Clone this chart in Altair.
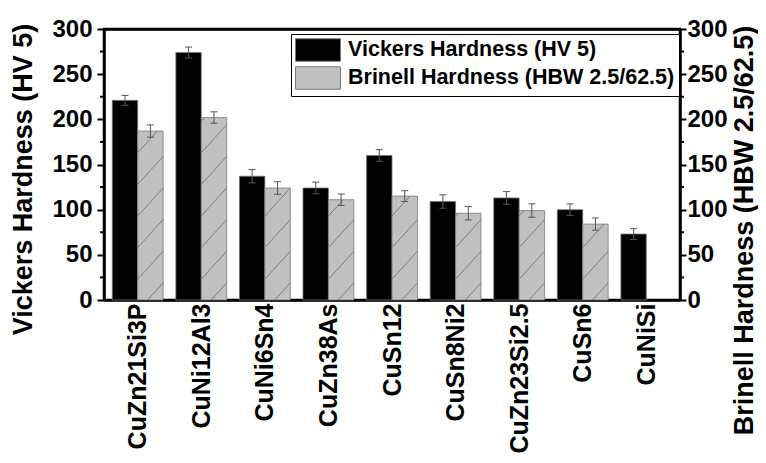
import altair as alt
import pandas as pd
import json

# ---------------- data ----------------
categories = ["CuZn21Si3P", "CuNi12Al3", "CuNi6Sn4", "CuZn38As", "CuSn12",
              "CuSn8Ni2", "CuZn23Si2.5", "CuSn6", "CuNiSi"]
vickers = [221, 274, 137, 124, 160, 109, 113, 100, 73]
vickers_err = [5.5, 6.0, 7.4, 6.5, 6.5, 7.4, 7.0, 6.4, 6.0]
brinell = [187, 202, 124, 111, 115, 96, 99, 84, None]
brinell_err = [6.8, 6.3, 7.0, 6.3, 6.0, 7.4, 7.4, 6.8, None]
y_ticks = [0, 50, 100, 150, 200, 250, 300]
y_minor = [25, 75, 125, 175, 225, 275]

S1 = "Vickers Hardness (HV 5)"
S2 = "Brinell Hardness (HBW 2.5/62.5)"

FONT = "Liberation Sans"
W, H = 576, 271
BW = 0.40          # bar width in category units
CAP = 0.055        # half cap width

rows = []
for i, (v, ve, b, be) in enumerate(zip(vickers, vickers_err, brinell, brinell_err)):
    rows.append(dict(idx=i, series=S1, value=v, err=ve, x0=i - BW, x1=i, xc=i - BW / 2))
    if b is not None:
        rows.append(dict(idx=i, series=S2, value=b, err=be, x0=i, x1=i + BW, xc=i + BW / 2))
df = pd.DataFrame(rows)
df["base"] = 0
df["lo"] = df["value"] - df["err"]
df["hi"] = df["value"] + df["err"]
df["c0"] = df["xc"] - CAP
df["c1"] = df["xc"] + CAP

# hatch segments (derived from the Brinell bars, in data units)
RISE, STEP, PHASE = 31.0, 35.0, -12.0
hatch = []
for _, r in df[df["series"] == S2].iterrows():
    top = r["value"]
    a = PHASE
    while a < top:
        ya, yb = a, a + RISE
        xa, xb = r["x0"], r["x1"]
        if yb > 0:
            if ya < 0:
                xa = r["x0"] + (-a) / RISE * BW
                ya = 0.0
            if yb > top:
                xb = r["x0"] + (top - a) / RISE * BW
                yb = top
            hatch.append(dict(hx0=xa, hx1=xb, hy0=ya, hy1=yb))
        a += STEP
hdf = pd.DataFrame(hatch)
minor_df = pd.DataFrame({"m": y_minor})

# ---------------- scales / axes ----------------
xscale = alt.Scale(domain=[-0.53, 8.53], nice=False, zero=False)
yscale = alt.Scale(domain=[0, 300], nice=False, zero=True)

label_expr = json.dumps(categories) + "[datum.value]"
xaxis = alt.Axis(values=list(range(len(categories))), labelExpr=label_expr, ticks=False,
                 labelAngle=270, labelAlign="right", labelBaseline="middle",
                 labelFont=FONT, labelFontSize=25, labelFontWeight="bold", labelColor="black",
                 labelPadding=3, labelOverlap=False, labelFlush=False,
                 domainColor="black", domainWidth=2.5, grid=False, title=None)

xaxis_top = alt.Axis(orient="top", labels=False, ticks=False, domainColor="black",
                     domainWidth=2.5, grid=False, title=None)

laxis = alt.Axis(values=y_ticks, tickSize=7, tickWidth=2, tickColor="black",
                 labelFont=FONT, labelFontSize=24, labelFontWeight="bold", labelColor="black",
                 labelPadding=5, labelFlush=False,
                 title=S1, titleFont=FONT, titleFontSize=27, titleFontWeight="bold",
                 titleColor="black", titleAngle=270, titleBaseline="bottom", titleAlign="center",
                 titleX=-67, titleY=150,
                 domainColor="black", domainWidth=2.5, grid=False)

raxis = alt.Axis(orient="right", values=y_ticks, tickSize=6, tickWidth=2, tickColor="black",
                 labelFont=FONT, labelFontSize=24, labelFontWeight="bold", labelColor="black",
                 labelPadding=1, labelFlush=False,
                 title=S2, titleFont=FONT, titleFontSize=27, titleFontWeight="bold",
                 titleColor="black", titleAngle=270, titleBaseline="top", titleAlign="center",
                 titleX=51, titleY=201,
                 domainColor="black", domainWidth=2.5, grid=False)

legend = alt.Legend(orient="none", legendX=187, legendY=5, title=None,
                    symbolType="M-2,-1H2V1H-2Z", symbolSize=506,
                    symbolStrokeWidth=1, symbolStrokeColor="#7a7a7a", symbolOpacity=1,
                    symbolOffset=11,
                    labelFont=FONT, labelFontSize=21.5, labelFontWeight="bold", labelColor="black",
                    labelOffset=18, labelLimit=600, rowPadding=0, padding=4,
                    strokeColor="black", fillColor="white")

# ---------------- layers ----------------
bars = alt.Chart(df).mark_bar(stroke="#7a7a7a", strokeWidth=0.8).encode(
    x=alt.X("x0:Q", scale=xscale, axis=xaxis),
    x2="x1:Q",
    y=alt.Y("value:Q", scale=yscale, axis=laxis),
    y2="base:Q",
    color=alt.Color("series:N", scale=alt.Scale(domain=[S1, S2], range=["#000000", "#c0c0c0"]),
                    legend=legend),
)

hatch_layer = alt.Chart(hdf).mark_rule(color="#6e6e6e", strokeWidth=0.8).encode(
    x=alt.X("hx0:Q", scale=xscale, axis=xaxis),
    x2="hx1:Q",
    y=alt.Y("hy0:Q", scale=yscale, axis=laxis),
    y2="hy1:Q",
)

err = alt.Chart(df).mark_rule(color="#555555", strokeWidth=1).encode(
    x=alt.X("xc:Q", scale=xscale, axis=xaxis),
    y=alt.Y("lo:Q", scale=yscale, axis=laxis),
    y2="hi:Q",
)
cap_hi = alt.Chart(df).mark_rule(color="#555555", strokeWidth=1).encode(
    x=alt.X("c0:Q", scale=xscale, axis=xaxis),
    x2="c1:Q",
    y=alt.Y("hi:Q", scale=yscale, axis=laxis),
)
cap_lo = alt.Chart(df).mark_rule(color="#555555", strokeWidth=1).encode(
    x=alt.X("c0:Q", scale=xscale, axis=xaxis),
    x2="c1:Q",
    y=alt.Y("lo:Q", scale=yscale, axis=laxis),
)

minor_left = alt.Chart(minor_df).mark_rule(color="black", strokeWidth=2).encode(
    x=alt.value(-4), x2=alt.value(0),
    y=alt.Y("m:Q", scale=yscale, axis=laxis),
)
minor_right = alt.Chart(minor_df).mark_rule(color="black", strokeWidth=2).encode(
    x=alt.value(W), x2=alt.value(W + 4),
    y=alt.Y("m:Q", scale=yscale, axis=laxis),
)

left = alt.layer(bars, hatch_layer, err, cap_hi, cap_lo, minor_left, minor_right)

right = alt.Chart(df).mark_point(opacity=0).encode(
    x=alt.X("xc:Q", scale=xscale, axis=xaxis_top),
    y=alt.Y("value:Q", scale=yscale, axis=raxis),
)

chart = alt.layer(left, right).resolve_scale(y="independent", x="independent").properties(
    width=W, height=H,
    autosize=alt.AutoSizeParams(type="none"),
    padding={"left": 96, "top": 21, "right": 78, "bottom": 155},
    background="white",
).configure_view(stroke="black", strokeWidth=2.5)

chart.save("out.html", embed_options={"renderer": "svg", "actions": False})
